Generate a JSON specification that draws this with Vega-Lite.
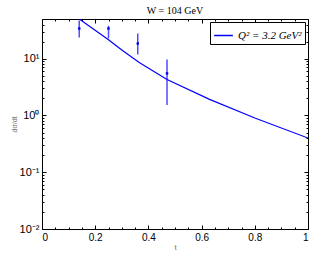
{
  "$schema": "https://vega.github.io/schema/vega-lite/v6.json",
  "autosize": "none",
  "width": 266,
  "height": 210,
  "padding": {"left": 42, "top": 19, "right": 8, "bottom": 27},
  "background": "white",
  "title": {"text": "W = 104 GeV", "font": "Liberation Serif", "fontSize": 10, "fontWeight": "normal", "offset": 3, "color": "black"},
  "config": {
    "view": {"stroke": "black", "strokeWidth": 1},
    "axis": {"grid": false, "domainColor": "black", "tickColor": "black", "labelFont": "Liberation Sans", "labelFontSize": 10, "labelColor": "black", "titleFont": "Liberation Sans", "titleFontWeight": "normal", "titleColor": "#777777"}
  },
  "datasets": {
    "curve": [
      {"t": 0.14, "v": 50, "s": "Q² = 3.2 GeV²"},
      {"t": 0.25, "v": 21.5, "s": "Q² = 3.2 GeV²"},
      {"t": 0.30, "v": 14.2, "s": "Q² = 3.2 GeV²"},
      {"t": 0.367, "v": 8.5, "s": "Q² = 3.2 GeV²"},
      {"t": 0.47, "v": 4.3, "s": "Q² = 3.2 GeV²"},
      {"t": 0.63, "v": 1.92, "s": "Q² = 3.2 GeV²"},
      {"t": 0.80, "v": 0.9, "s": "Q² = 3.2 GeV²"},
      {"t": 1.0, "v": 0.40, "s": "Q² = 3.2 GeV²"}
    ],
    "pts": [
      {"t": 0.14, "v": 34, "lo": 23.6, "hi": 47},
      {"t": 0.25, "v": 34, "lo": 22.7, "hi": 38},
      {"t": 0.36, "v": 18.5, "lo": 11.9, "hi": 27.7},
      {"t": 0.47, "v": 5.5, "lo": 1.53, "hi": 9.7}
    ]
  },
  "layer": [
    {
      "data": {"name": "pts"},
      "mark": {"type": "rule", "opacity": 0},
      "encoding": {
        "x": {"field": "t", "type": "quantitative", "scale": {"domain": [0, 1], "nice": false}, "axis": {"orient": "bottom", "labels": false, "title": null, "domain": false, "values": [0.05, 0.1, 0.15, 0.25, 0.3, 0.35, 0.45, 0.5, 0.55, 0.65, 0.7, 0.75, 0.85, 0.9, 0.95], "tickSize": -2}},
        "y": {"field": "lo", "type": "quantitative", "scale": {"type": "log", "domain": [0.01, 50], "nice": false}, "axis": {"orient": "left", "labels": false, "title": null, "domain": false, "values": [0.02, 0.03, 0.04, 0.05, 0.06, 0.07, 0.08, 0.09, 0.2, 0.3, 0.4, 0.5, 0.6, 0.7, 0.8, 0.9, 2, 3, 4, 5, 6, 7, 8, 9, 20, 30, 40], "tickSize": -2}}
      }
    },
    {
      "data": {"name": "pts"},
      "mark": {"type": "rule", "opacity": 0},
      "encoding": {
        "x": {"field": "t", "type": "quantitative", "axis": {"orient": "top", "labels": false, "title": null, "domain": false, "values": [0.05, 0.1, 0.15, 0.25, 0.3, 0.35, 0.45, 0.5, 0.55, 0.65, 0.7, 0.75, 0.85, 0.9, 0.95], "tickSize": -2}},
        "y": {"field": "lo", "type": "quantitative", "axis": {"orient": "right", "labels": false, "title": null, "domain": false, "values": [0.02, 0.03, 0.04, 0.05, 0.06, 0.07, 0.08, 0.09, 0.2, 0.3, 0.4, 0.5, 0.6, 0.7, 0.8, 0.9, 2, 3, 4, 5, 6, 7, 8, 9, 20, 30, 40], "tickSize": -2}}
      }
    },
    {
      "data": {"name": "pts"},
      "mark": {"type": "rule", "color": "#4d4dff", "strokeWidth": 1.5, "clip": true},
      "encoding": {
        "x": {"field": "t", "type": "quantitative", "axis": {"orient": "top", "labels": false, "title": null, "domain": false, "values": [0, 0.2, 0.4, 0.6, 0.8, 1], "tickSize": -4}},
        "y": {"field": "lo", "type": "quantitative", "axis": {"orient": "right", "labels": false, "title": null, "domain": false, "values": [0.01, 0.1, 1, 10], "tickSize": -4}},
        "y2": {"field": "hi"}
      }
    },
    {
      "data": {"name": "pts"},
      "mark": {"type": "square", "filled": true, "size": 6, "color": "#0000ee", "opacity": 1},
      "encoding": {
        "x": {"field": "t", "type": "quantitative", "axis": null},
        "y": {"field": "v", "type": "quantitative", "axis": null}
      }
    },
    {
      "data": {"name": "curve"},
      "mark": {"type": "line", "strokeWidth": 1.2, "clip": true},
      "encoding": {
        "x": {"field": "t", "type": "quantitative", "axis": {"orient": "bottom", "values": [0, 0.2, 0.4, 0.6, 0.8, 1], "tickSize": -4, "labelPadding": 7, "domain": false, "title": "t", "titleFontSize": 8, "titlePadding": 1, "labelExpr": "datum.value == 0 ? '0' : datum.value == 1 ? '1' : format(datum.value, '.1f')"}},
        "y": {"field": "v", "type": "quantitative", "axis": {"orient": "left", "values": [0.01, 0.1, 1, 10], "tickSize": -4, "labelPadding": 7, "labelFontSize": 11, "domain": false, "title": "dσ/dt", "titleFontSize": 7, "titlePadding": 2, "labelExpr": "datum.value == 10 ? '10¹' : datum.value == 1 ? '10⁰' : datum.value == 0.1 ? '10⁻¹' : '10⁻²'"}},
        "color": {"field": "s", "type": "nominal", "scale": {"range": ["#0000ff"]}, "legend": {"title": null, "orient": "top-right", "offset": 3, "strokeColor": "black", "fillColor": "white", "padding": 3, "symbolType": "stroke", "symbolSize": 350, "symbolStrokeWidth": 1.5, "labelFont": "Liberation Serif", "labelFontStyle": "italic", "labelFontSize": 11, "labelColor": "black"}}
      }
    }
  ],
  "resolve": {"axis": {"x": "independent", "y": "independent"}}
}
